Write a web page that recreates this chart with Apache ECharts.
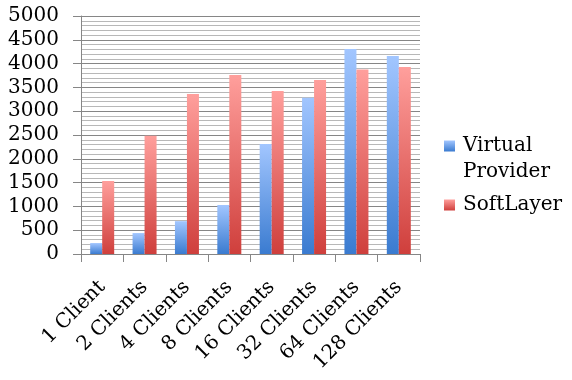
<!DOCTYPE html>
<html>
<head>
<meta charset="utf-8">
<script src="https://cdn.jsdelivr.net/npm/echarts@6/dist/echarts.min.js"></script>
<style>html,body{margin:0;padding:0;background:#fff;}#c{width:572px;height:380px;}</style>
</head>
<body>
<div id="c"></div>
<script>
const categories = ['1 Client','2 Clients','4 Clients','8 Clients','16 Clients','32 Clients','64 Clients','128 Clients'];
const virtualProvider = [230, 440, 690, 1030, 2310, 3285, 4305, 4160];
const softLayer = [1535, 2485, 3360, 3760, 3425, 3655, 3875, 3930];
const seriesNames = ['Virtual Provider', 'SoftLayer'];
const legendLines = ['Virtual', 'Provider'];

const FONT = 'DejaVu Serif';
function grad(top, bottom) {
  return new echarts.graphic.LinearGradient(0, 0, 0, 1, [
    {offset: 0, color: top}, {offset: 1, color: bottom}
  ]);
}
const chart = echarts.init(document.getElementById('c'), null, {renderer: 'canvas'});
chart.setOption({
  animation: false,
  backgroundColor: '#ffffff',
  grid: {left: 81, right: 152, top: 16, bottom: 126, containLabel: false},
  legend: [
    {
      data: [seriesNames[0]], left: 444, top: 107, padding: 0,
      itemWidth: 11, itemHeight: 11, icon: 'rect',
      formatter: () => '{a|' + legendLines[0] + '}\n{a|' + legendLines[1] + '}',
      textStyle: {
        fontFamily: FONT, fontSize: 20, color: '#000', lineHeight: 26, padding: [26, 0, 0, 3],
        rich: {a: {fontFamily: FONT, fontSize: 20, color: '#000', lineHeight: 26}}
      }
    },
    {
      data: [seriesNames[1]], left: 444, top: 192, padding: 0,
      itemWidth: 11, itemHeight: 11, icon: 'rect',
      textStyle: {fontFamily: FONT, fontSize: 20, color: '#000', lineHeight: 26, padding: [0, 0, 0, 3]}
    }
  ],
  xAxis: {
    type: 'category', data: categories,
    axisLine: {lineStyle: {color: '#868686', width: 1}},
    axisTick: {show: true, length: 8, lineStyle: {color: '#868686'}},
    axisLabel: {rotate: 45, margin: 30, fontFamily: FONT, fontSize: 20, color: '#000', interval: 0},
    splitLine: {show: false}
  },
  yAxis: {
    type: 'value', min: 0, max: 5000, interval: 500,
    axisLine: {show: true, lineStyle: {color: '#868686', width: 1}},
    axisTick: {show: true, length: 8, lineStyle: {color: '#868686'}},
    axisLabel: {margin: 22, fontFamily: FONT, fontSize: 20, color: '#000', formatter: v => String(v)},
    splitLine: {show: true, lineStyle: {color: '#868686', width: 1}},
    minorTick: {show: false, splitNumber: 5},
    minorSplitLine: {show: true, lineStyle: {color: '#b8b8b8', width: 1}}
  },
  series: [
    {name: seriesNames[0], type: 'bar', data: virtualProvider, barWidth: 12, barGap: '0%',
     itemStyle: {color: grad('#a2c6ff', '#3a7bd0')}},
    {name: seriesNames[1], type: 'bar', data: softLayer, barWidth: 12, barGap: '0%',
     itemStyle: {color: grad('#ff9f9c', '#cf3f3c')}}
  ]
});
</script>
</body>
</html>
